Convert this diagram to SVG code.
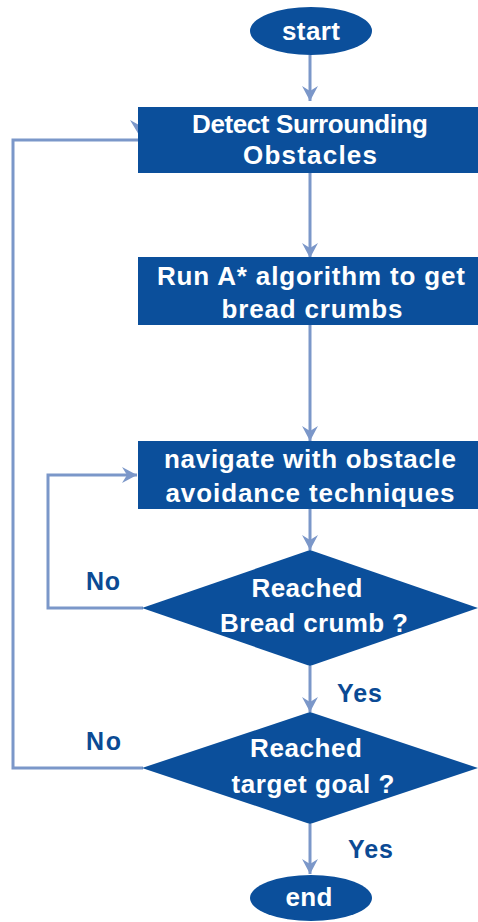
<svg xmlns="http://www.w3.org/2000/svg" width="478" height="922" viewBox="0 0 478 922">
<defs>
<style>
.node{fill:#0b4f9b;}
.lbl{font-family:"Liberation Sans",Arial,sans-serif;font-weight:bold;font-size:26px;fill:#ffffff;text-anchor:middle;}
.edge{fill:none;stroke:#7b97c9;stroke-width:3;}
.tag{font-family:"Liberation Sans",Arial,sans-serif;font-weight:bold;font-size:25px;fill:#0b4a94;}
.head{fill:#7b97c9;}
</style>
<marker id="arr" markerUnits="userSpaceOnUse" markerWidth="20" markerHeight="20" viewBox="-16 -10 18 20" refX="0" refY="0" orient="auto">
<path class="head" d="M-15,-8 L0,0 L-15,8 L-10,0 Z"/>
</marker>
</defs>
<rect width="478" height="922" fill="#ffffff"/>
<g id="connectors">
<line class="edge" x1="310" y1="55" x2="310" y2="101" marker-end="url(#arr)"/>
<line class="edge" x1="310" y1="173" x2="310" y2="258" marker-end="url(#arr)"/>
<line class="edge" x1="310" y1="325" x2="310" y2="441" marker-end="url(#arr)"/>
<line class="edge" x1="310" y1="509" x2="310" y2="550" marker-end="url(#arr)"/>
<line class="edge" x1="310" y1="666" x2="310" y2="712" marker-end="url(#arr)"/>
<line class="edge" x1="310" y1="824" x2="310" y2="874" marker-end="url(#arr)"/>
<polyline class="edge" points="143,608 48,608 48,475 137,475" marker-end="url(#arr)"/>
<polyline class="edge" points="143,768 13,768 13,140 139,140"/>
<path class="head" d="M130,120 L139,135 L148,120 L139,125 Z"/>
<text class="tag" x="86" y="590" textLength="34">No</text>
<text class="tag" x="86" y="750" textLength="35">No</text>
<text class="tag" x="337" y="702" textLength="45">Yes</text>
<text class="tag" x="348" y="858" textLength="45">Yes</text>
</g>
<g id="start">
<ellipse class="node" cx="311" cy="31" rx="61" ry="24"/>
<text class="lbl" x="311" y="40" textLength="58">start</text>
</g>
<g id="detect">
<rect class="node" x="138" y="107" width="345" height="66"/>
<text class="lbl" x="310" y="133" textLength="236">Detect Surrounding</text>
<text class="lbl" x="310" y="164" textLength="134">Obstacles</text>
</g>
<g id="astar">
<rect class="node" x="138" y="257" width="345" height="68"/>
<text class="lbl" x="311" y="285" textLength="308">Run A* algorithm to get</text>
<text class="lbl" x="312" y="318" textLength="181">bread crumbs</text>
</g>
<g id="navigate">
<rect class="node" x="138" y="441" width="345" height="68"/>
<text class="lbl" x="310" y="468" textLength="292">navigate with obstacle</text>
<text class="lbl" x="310" y="502" textLength="289">avoidance techniques</text>
</g>
<g id="crumb">
<polygon class="node" points="310,550 478,608 310,666 142,608"/>
<text class="lbl" x="307" y="597" textLength="111">Reached</text>
<text class="lbl" x="314" y="632" textLength="188">Bread crumb ?</text>
</g>
<g id="goal">
<polygon class="node" points="310,712 478,768 310,824 142,768"/>
<text class="lbl" x="306" y="757" textLength="112">Reached</text>
<text class="lbl" x="313" y="793" textLength="163">target goal ?</text>
</g>
<g id="end">
<ellipse class="node" cx="311" cy="898" rx="61" ry="23"/>
<text class="lbl" x="309" y="906" textLength="47">end</text>
</g>
</svg>
